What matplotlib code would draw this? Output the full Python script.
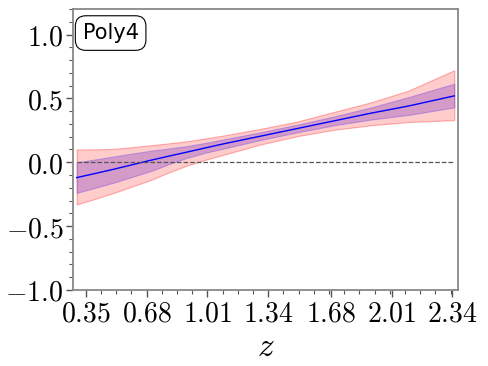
import numpy as np
import matplotlib
matplotlib.use("Agg")
import matplotlib.pyplot as plt
from matplotlib.ticker import FixedLocator, AutoMinorLocator, MultipleLocator, FuncFormatter

plt.rcParams['mathtext.fontset'] = 'cm'

# Data
z = [0.30, 0.40, 0.50, 0.60, 0.70, 0.80, 0.90, 1.00, 1.10, 1.30, 1.50, 1.70, 1.90, 2.10, 2.35]
mean = [-0.12, -0.088, -0.055, -0.02, 0.015, 0.048, 0.08, 0.113, 0.145, 0.205, 0.265, 0.325, 0.385, 0.44, 0.52]
inner_lo = [-0.24, -0.20, -0.16, -0.115, -0.07, -0.015, 0.035, 0.075, 0.108, 0.175, 0.235, 0.29, 0.335, 0.37, 0.43]
inner_hi = [0.00, 0.022, 0.045, 0.068, 0.09, 0.108, 0.127, 0.152, 0.18, 0.235, 0.295, 0.36, 0.43, 0.51, 0.615]
outer_lo = [-0.33, -0.287, -0.24, -0.19, -0.14, -0.08, -0.025, 0.02, 0.06, 0.14, 0.205, 0.255, 0.29, 0.315, 0.33]
outer_hi = [0.10, 0.101, 0.105, 0.118, 0.133, 0.148, 0.165, 0.187, 0.21, 0.262, 0.32, 0.395, 0.47, 0.56, 0.72]
xticks = [0.35, 0.68, 1.01, 1.34, 1.68, 2.01, 2.34]
xtick_labels = ['0.35', '0.68', '1.01', '1.34', '1.68', '2.01', '2.34']
label_text = 'Poly4'

fig = plt.figure(figsize=(4.88, 3.66), dpi=100)
ax = fig.add_axes([0.1496, 0.2077, 0.7889, 0.7677])

ax.fill_between(z, outer_lo, outer_hi, facecolor=(1, 0, 0, 0.2), edgecolor=(1, 0, 0, 0.3), lw=0.8)
ax.fill_between(z, inner_lo, inner_hi, facecolor=(0.4, 0.1, 0.75, 0.28), edgecolor=(0.45, 0.3, 0.9, 0.4), lw=0.8)
ax.plot(z, mean, color='blue', lw=1.0)
ax.axhline(0.0, color='#555555', ls='--', lw=0.9, xmin=0.01, xmax=0.99)

ax.set_xlim(0.28, 2.37)
ax.set_ylim(-1.0, 1.2)

ax.xaxis.set_major_locator(FixedLocator(xticks))
ax.set_xticklabels(['$%s$' % t for t in xtick_labels])
ax.xaxis.set_minor_locator(AutoMinorLocator(4))
ax.yaxis.set_major_locator(MultipleLocator(0.5))
ax.yaxis.set_minor_locator(MultipleLocator(0.1))
ax.yaxis.set_major_formatter(FuncFormatter(lambda v, p: '$%.1f$' % v))

ax.tick_params(axis='both', which='major', direction='out', length=5, width=1, labelsize=20, colors='#555555', labelcolor='black', pad=2)
ax.tick_params(axis='both', which='minor', direction='out', length=3, width=0.8, colors='#555555')
ax.tick_params(top=False, right=False, which='both')

for s in ax.spines.values():
    s.set_color('#888888')
    s.set_linewidth(1.3)

ax.set_xlabel('$z$', fontsize=24, labelpad=2)

ax.text(0.025, 0.95, label_text, transform=ax.transAxes, fontsize=15,
        family='DejaVu Sans', va='top', ha='left',
        bbox=dict(boxstyle='round,pad=0.35,rounding_size=0.5', facecolor='white', edgecolor='black', lw=0.8))

fig.savefig('out.png', dpi=100)
